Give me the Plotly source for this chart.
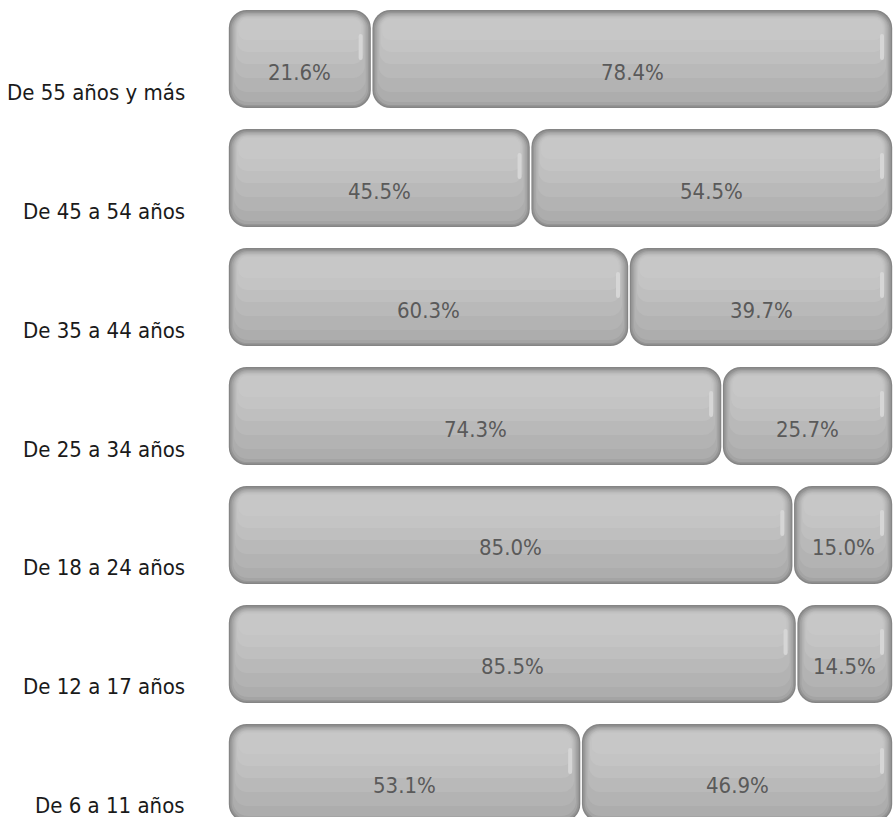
import plotly.graph_objects as go

categories = ["De 6 a 11 años", "De 12 a 17 años", "De 18 a 24 años", "De 25 a 34 años",
              "De 35 a 44 años", "De 45 a 54 años", "De 55 años y más"]
serie_1 = [53.1, 85.5, 85.0, 74.3, 60.3, 45.5, 21.6]
serie_2 = [46.9, 14.5, 15.0, 25.7, 39.7, 54.5, 78.4]

FONT = "DejaVu Sans Condensed, DejaVu Sans, sans-serif"

PX_PER_CAT = 118.8   # pixels per category step
PX_PER_X = 6.65      # pixels per x unit
BAR_PX = 98          # bar thickness in px

fig = go.Figure()

starts_1 = [0.0] * len(serie_1)
starts_2 = list(serie_1)

# shading layers: (top px, bottom px inside the bar, colour, horizontal inset px, radius px)
layers = [
    (0, 98, "#858585", 0.8, 18),
    (1.5, 96.5, "#959595", 2.0, 17),
    (3, 95, "#a4a4a4", 3.5, 16),
    (4, 92, "#adadad", 5.0, 15),
    (5, 82, "#b3b3b3", 6.0, 13),
    (6, 68, "#b9b9b9", 7.0, 12),
    (6.5, 54, "#bfbfbf", 8.0, 11),
    (7.5, 42, "#c4c4c4", 9.0, 10),
    (9, 30, "#c7c7c7", 10.5, 8),
]


def px_to_offset(p_top, p_bot):
    half = BAR_PX / 2
    off = (half - p_bot) / PX_PER_CAT
    w = (p_bot - p_top) / PX_PER_CAT
    return off, w


for starts, vals in [(starts_1, serie_1), (starts_2, serie_2)]:
    for p_top, p_bot, col, inset_px, rad in layers:
        off, w = px_to_offset(p_top, p_bot)
        inset = inset_px / PX_PER_X
        fig.add_trace(go.Bar(
            y=categories, x=[max(v - 2 * inset, 0) for v in vals],
            base=[s + inset for s in starts],
            orientation="h", offset=off, width=w,
            marker=dict(color=col, line=dict(width=0), cornerradius=rad),
            hoverinfo="skip", showlegend=False,
        ))
    # soft vertical highlight near the right end of each segment
    off, w = px_to_offset(24, 50)
    fig.add_trace(go.Bar(
        y=categories, x=[4 / PX_PER_X] * len(vals),
        base=[s + v - 13 / PX_PER_X for s, v in zip(starts, vals)],
        orientation="h", offset=off, width=w,
        marker=dict(color="#d6d6d6", line=dict(width=0), cornerradius=2),
        hoverinfo="skip", showlegend=False,
    ))

# value labels
for starts, vals in [(starts_1, serie_1), (starts_2, serie_2)]:
    for cat, s, v in zip(categories, starts, vals):
        fig.add_annotation(
            x=s + v / 2, y=cat, xref="x", yref="y", text=f"{v:.1f}%",
            showarrow=False, yshift=-13,
            font=dict(family=FONT, size=22, color="#5a5a5a"),
        )

# category labels
for cat in categories:
    fig.add_annotation(
        x=0, y=cat, xref="x", yref="y", text=cat, showarrow=False,
        xanchor="right", xshift=-41, yshift=-33,
        font=dict(family=FONT, size=22, color="#1a1a1a"),
    )

fig.update_layout(
    width=896, height=817,
    margin=dict(l=228, r=3, t=0, b=0),
    barmode="overlay",
    paper_bgcolor="white", plot_bgcolor="white",
    xaxis=dict(range=[0, 100], visible=False, fixedrange=True),
    yaxis=dict(range=[-0.37, 6.496], visible=False, type="category",
               categoryorder="array", categoryarray=categories, fixedrange=True),
    showlegend=False,
)

fig.write_html(
    "out.html",
    config={"displayModeBar": False},
    post_script="document.body.style.margin='0';document.body.style.overflow='hidden';",
)
